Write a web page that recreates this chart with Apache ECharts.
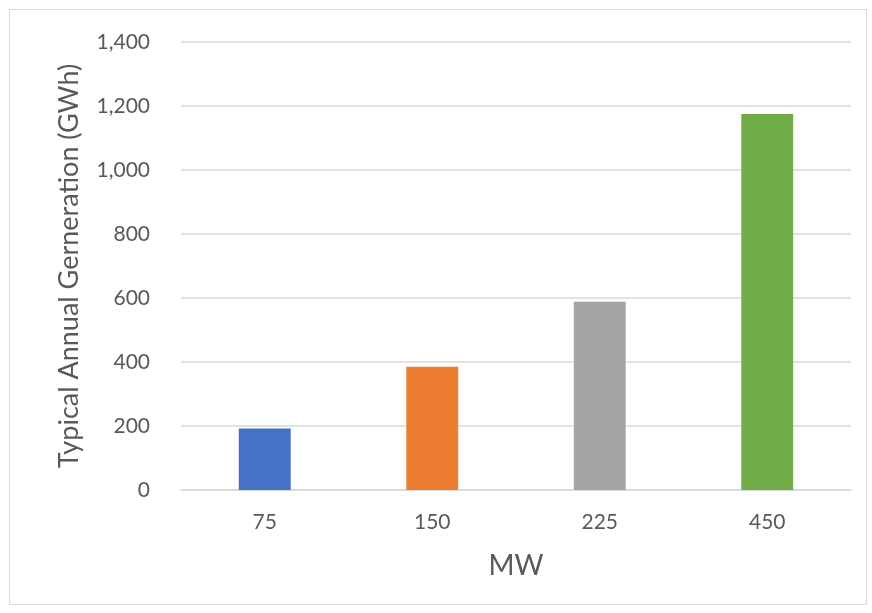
<!DOCTYPE html>
<html>
<head>
<meta charset="utf-8">
<script src="https://cdn.jsdelivr.net/npm/echarts@6/dist/echarts.min.js"></script>
<style>
html,body{margin:0;padding:0;background:#fff;}
#frame{position:absolute;left:9px;top:9px;width:858px;height:596px;border:1px solid #d9d9d9;box-sizing:border-box;}
#chart{position:absolute;left:0;top:0;width:872px;height:613px;}
</style>
</head>
<body>
<div id="frame"></div>
<div id="chart"></div>
<script>
const categories = ['75', '150', '225', '450'];
const generation = [192, 385, 588, 1175];
const barColors = ['#4472C4', '#ED7D31', '#A5A5A5', '#70AD47'];
const yTicks = { min: 0, max: 1400, interval: 200 };

const chart = echarts.init(document.getElementById('chart'));
chart.setOption({
  animation: false,
  backgroundColor: 'transparent',
  grid: { left: 181, right: 21, top: 42, bottom: 123 },
  xAxis: {
    type: 'category',
    data: categories,
    name: 'MW',
    nameLocation: 'middle',
    nameGap: 62,
    nameTextStyle: { fontFamily: 'Lato', fontSize: 28, color: '#595959' },
    axisLine: { lineStyle: { color: '#d9d9d9', width: 1.5 } },
    axisTick: { show: false },
    axisLabel: { fontFamily: 'Lato', fontSize: 21, color: '#595959', margin: 22 }
  },
  yAxis: {
    type: 'value',
    min: yTicks.min,
    max: yTicks.max,
    interval: yTicks.interval,
    name: 'Typical Annual Gerneration (GWh)',
    nameLocation: 'middle',
    nameGap: 98,
    nameTextStyle: { fontFamily: 'Lato', fontSize: 27, color: '#595959' },
    axisLine: { show: false },
    axisTick: { show: false },
    splitLine: { lineStyle: { color: '#d9d9d9', width: 1.5 } },
    axisLabel: {
      fontFamily: 'Lato', fontSize: 21, color: '#595959', margin: 31,
      formatter: v => v.toLocaleString('en-US')
    }
  },
  series: [{
    type: 'bar',
    data: generation.map((v, i) => ({ value: v, itemStyle: { color: barColors[i] } })),
    barWidth: '31%'
  }]
});
</script>
</body>
</html>
